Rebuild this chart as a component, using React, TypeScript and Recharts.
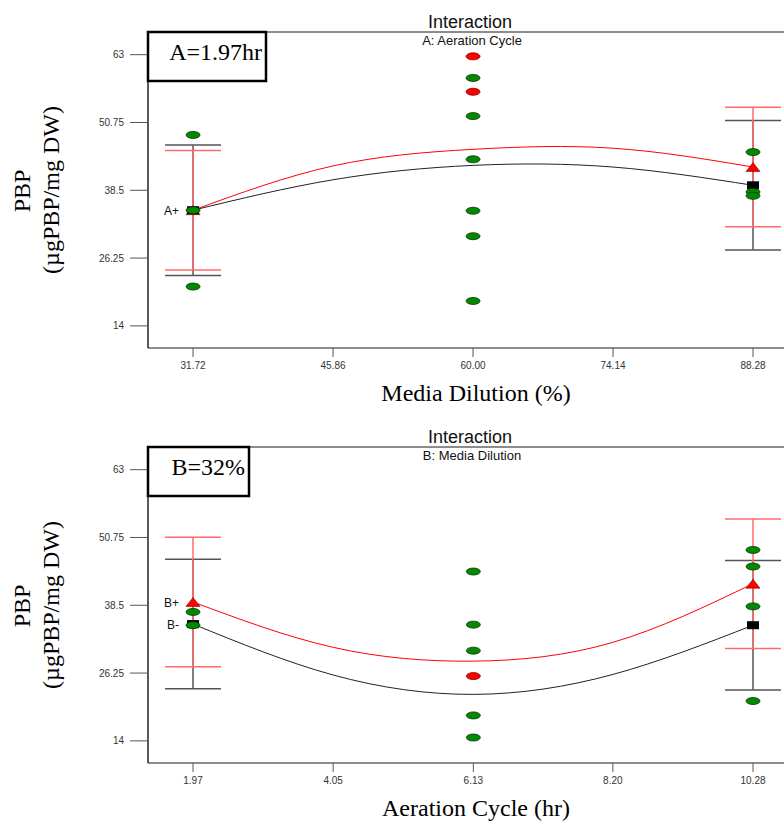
import React from "react";
import {
  ComposedChart,
  ErrorBar,
  Line,
  ReferenceLine,
  Scatter,
  XAxis,
  YAxis,
} from "recharts";

// y axis shared by both panels
const pbpTicks = [14, 26.25, 38.5, 50.75, 63];
const pbpDomain: [number, number] = [10, 67.1];

// top panel: Media Dilution (%), A = 1.97 hr
const dilutionTicks = ["31.72", "45.86", "60.00", "74.14", "88.28"];
const dilutionLow = [34.9, 40.4, 43.0, 42.7, 39.4];
const dilutionHigh = [34.9, 42.9, 45.9, 46.1, 42.7];
const dilutionErrLow = [11.8, 11.7];
const dilutionErrHigh = [10.8, 10.8];
const dilutionGreen = [
  [31.72, 48.5], [31.72, 34.9], [31.72, 21.1],
  [60, 58.8], [60, 51.9], [60, 44.1], [60, 34.8], [60, 30.2], [60, 18.5],
  [88.28, 45.4], [88.28, 38.2], [88.28, 37.5],
];
const dilutionRed = [[60, 62.7], [60, 56.3]];

// bottom panel: Aeration Cycle (hr), B = 32%
const aerationTicks = ["1.97", "4.05", "6.13", "8.20", "10.28"];
const aerationLow = [35.1, 25.9, 22.4, 26.0, 34.9];
const aerationHigh = [39.1, 30.9, 28.4, 31.8, 42.4];
const aerationErrLow = [11.7, 11.7];
const aerationErrHigh = [11.7, 11.7];
const aerationGreen = [
  [1.97, 37.3], [1.97, 34.9],
  [6.13, 44.6], [6.13, 35.0], [6.13, 30.3], [6.13, 18.6], [6.13, 14.6],
  [10.28, 48.5], [10.28, 45.5], [10.28, 38.3], [10.28, 21.2],
];
const aerationRed = [[6.13, 25.7]];

const sans = "'Liberation Sans', Arial, sans-serif";
const serif = "'Liberation Serif', 'Times New Roman', serif";
const tickStyle = { fill: "#333", fontSize: 10, fontFamily: sans };

const oval = (fill: string, edge: string) => (p: any) => (
  <ellipse cx={p.cx} cy={p.cy} rx={7} ry={3.5} fill={fill} stroke={edge} strokeWidth={0.8} />
);

const nothing = () => <g />;

const tagText = (p: any) =>
  p.payload?.tag ? (
    <text x={p.cx - 14} y={p.cy + 5} textAnchor="end" fontSize={12} fontFamily={sans} fill="#111">
      {p.payload.tag}
    </text>
  ) : null;

const square = (p: any) => (
  <g>
    <rect x={p.cx - 6} y={p.cy - 4} width={12} height={8} fill="#000" />
    {tagText(p)}
  </g>
);

const triangle = (p: any) => (
  <g>
    <polygon
      points={`${p.cx - 7},${p.cy + 4.5} ${p.cx + 7},${p.cy + 4.5} ${p.cx},${p.cy - 4.5}`}
      fill="#ff0000"
      stroke="#800000"
      strokeWidth={0.6}
    />
    {tagText(p)}
  </g>
);

type PanelProps = {
  ticks: string[];
  domain: [number, number];
  low: number[];
  high: number[];
  errLow: number[];
  errHigh: number[];
  green: number[][];
  red: number[][];
  tagLow?: string;
  tagHigh?: string;
};

function Panel({ ticks, domain, low, high, errLow, errHigh, green, red, tagLow, tagHigh }: PanelProps) {
  const xs = ticks.map(Number);
  const lowLine = xs.map((x, i) => ({ x, y: low[i] }));
  const highLine = xs.map((x, i) => ({ x, y: high[i] }));
  const ends = [0, xs.length - 1];
  const lowEnds = ends.map((i, k) => ({ x: xs[i], y: low[i], err: errLow[k], tag: k === 0 ? tagLow : undefined }));
  const highEnds = ends.map((i, k) => ({ x: xs[i], y: high[i], err: errHigh[k], tag: k === 0 ? tagHigh : undefined }));
  const greenPts = green.map(([x, y]) => ({ x, y }));
  const redPts = red.map(([x, y]) => ({ x, y }));

  return (
    <ComposedChart width={800} height={410} margin={{ top: 32, right: 5, bottom: 0, left: 0 }}>
      <XAxis
        type="number"
        dataKey="x"
        domain={domain}
        ticks={xs}
        allowDataOverflow
        tickFormatter={(v: number) => v.toFixed(2)}
        height={62}
        tickSize={9}
        tickMargin={5}
        tick={tickStyle}
        axisLine={{ stroke: "#666", strokeWidth: 1.5 }}
        tickLine={{ stroke: "#555" }}
      />
      <YAxis
        type="number"
        domain={pbpDomain}
        ticks={pbpTicks}
        allowDataOverflow
        width={148}
        tickSize={18}
        tickMargin={6}
        tick={tickStyle}
        axisLine={{ stroke: "#222", strokeWidth: 1.5 }}
        tickLine={{ stroke: "#555" }}
      />
      <ReferenceLine y={pbpDomain[1]} stroke="#666" strokeWidth={1.5} />
      <Line data={lowLine} dataKey="y" type="natural" stroke="#222" strokeWidth={1} dot={false} isAnimationActive={false} />
      <Line data={highLine} dataKey="y" type="natural" stroke="#ff0000" strokeWidth={1} dot={false} isAnimationActive={false} />
      {/* error bars first, markers on top */}
      <Scatter data={lowEnds} dataKey="y" shape={nothing} isAnimationActive={false}>
        <ErrorBar dataKey="err" direction="y" width={28} stroke="#555" strokeWidth={1.5} />
      </Scatter>
      <Scatter data={highEnds} dataKey="y" shape={nothing} isAnimationActive={false}>
        <ErrorBar dataKey="err" direction="y" width={28} stroke="#ff6b6b" strokeWidth={1.5} />
      </Scatter>
      <Scatter data={highEnds} dataKey="y" shape={triangle} isAnimationActive={false} />
      <Scatter data={lowEnds} dataKey="y" shape={square} isAnimationActive={false} />
      <Scatter data={redPts} dataKey="y" shape={oval("#ff0000", "#7a0000")} isAnimationActive={false} />
      <Scatter data={greenPts} dataKey="y" shape={oval("#008a00", "#0b300b")} isAnimationActive={false} />
    </ComposedChart>
  );
}

const panels = [
  { title: "Interaction", factor: "A: Aeration Cycle", note: "A=1.97hr", noteW: 118, xLabel: "Media Dilution (%)" },
  { title: "Interaction", factor: "B: Media Dilution", note: "B=32%", noteW: 101, xLabel: "Aeration Cycle (hr)" },
];

export default function App() {
  return (
    <div style={{ position: "absolute", left: 0, top: 0, width: 784, height: 824, overflow: "hidden", background: "#fff" }}>
      <div style={{ position: "absolute", left: 0, top: 0 }}>
        <Panel
          ticks={dilutionTicks}
          domain={[27.17, 92.52]}
          low={dilutionLow}
          high={dilutionHigh}
          errLow={dilutionErrLow}
          errHigh={dilutionErrHigh}
          green={dilutionGreen}
          red={dilutionRed}
          tagLow="A+"
        />
      </div>
      <div style={{ position: "absolute", left: 0, top: 415 }}>
        <Panel
          ticks={aerationTicks}
          domain={[1.302, 10.903]}
          low={aerationLow}
          high={aerationHigh}
          errLow={aerationErrLow}
          errHigh={aerationErrHigh}
          green={aerationGreen}
          red={aerationRed}
          tagLow="B-"
          tagHigh="B+"
        />
      </div>
      <svg width={784} height={824} style={{ position: "absolute", left: 0, top: 0, pointerEvents: "none" }}>
        {panels.map((p, i) => {
          const dy = i * 415;
          return (
            <g key={i}>
              <text x={470} y={28 + dy} textAnchor="middle" fontSize={18} fontFamily={sans} fill="#111">
                {p.title}
              </text>
              <text x={472} y={45 + dy} textAnchor="middle" fontSize={13} fontFamily={sans} fill="#111">
                {p.factor}
              </text>
              <rect x={148} y={32 + dy} width={p.noteW} height={49} fill="#fff" stroke="#000" strokeWidth={2.5} />
              <text x={148 + p.noteW - 4} y={60 + dy} textAnchor="end" fontSize={24} fontFamily={serif} fill="#000">
                {p.note}
              </text>
              <text transform={`translate(30 ${191 + dy}) rotate(-90)`} textAnchor="middle" fontSize={24} fontFamily={serif} fill="#000">
                PBP
              </text>
              <text transform={`translate(59 ${190 + dy}) rotate(-90)`} textAnchor="middle" fontSize={24} fontFamily={serif} fill="#000">
                (µgPBP/mg DW)
              </text>
              <text x={476} y={401 + dy} textAnchor="middle" fontSize={24} fontFamily={serif} fill="#000">
                {p.xLabel}
              </text>
            </g>
          );
        })}
      </svg>
    </div>
  );
}
